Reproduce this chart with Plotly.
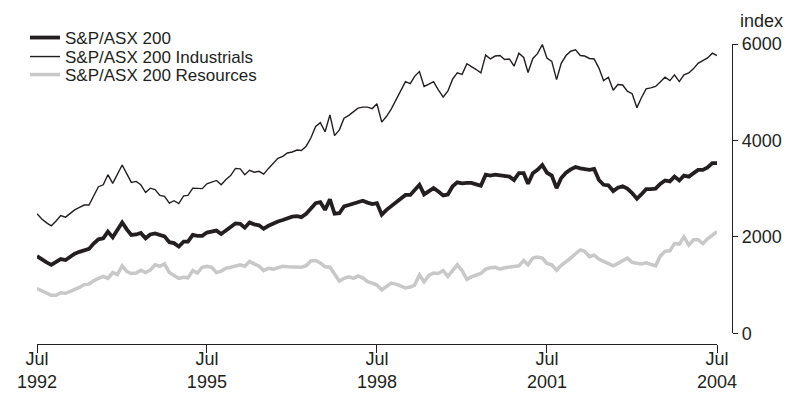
import pandas as pd
import plotly.graph_objects as go

series_names = ["S&P/ASX 200", "S&P/ASX 200 Industrials", "S&P/ASX 200 Resources"]

dates = pd.date_range("1992-07-01", periods=145, freq="MS")

asx200 = [
    1600,1530,1470,1420,1470,1540,1520,1590,1650,1690,1730,1750,1860,1950,1970,2110,1990,2150,2300,2150,2040,2050,2080,1970,2050,
    2070,2030,2010,1890,1870,1800,1900,1900,2040,2020,2020,2090,2110,2130,2060,2140,2200,2280,2270,2190,2300,2260,2240,2170,
    2230,2280,2320,2350,2390,2420,2430,2410,2480,2580,2700,2720,2560,2780,2480,2490,2630,2660,2690,2720,2750,2710,2680,2700,
    2460,2560,2640,2730,2800,2870,2870,2970,3080,2880,2940,3010,2940,2860,2880,3050,3130,3110,3120,3120,3090,3060,3290,3270,
    3290,3280,3270,3250,3180,3320,3320,3100,3320,3390,3490,3330,3270,3010,3220,3330,3400,3450,3420,3400,3390,3410,3180,3080,3070,
    2950,3020,3050,3000,2910,2790,2880,2990,2990,3000,3100,3170,3150,3250,3170,3270,3250,3330,3390,3390,3440,3530,3530,
]

industrials = [
    2480,2370,2290,2230,2330,2440,2410,2490,2560,2610,2660,2660,2850,3040,3080,3290,3110,3300,3490,3300,3130,3150,3080,2920,3010,
    2980,2860,2840,2700,2750,2690,2850,2860,3010,3010,3000,3100,3130,3170,3080,3190,3270,3420,3410,3290,3380,3340,3360,3300,
    3420,3530,3630,3670,3740,3760,3800,3790,3880,4050,4290,4370,4180,4530,4100,4220,4460,4520,4600,4670,4690,4690,4660,4760,
    4380,4500,4650,4850,5050,5220,5180,5330,5430,5120,5170,5220,5050,4900,5020,5270,5400,5370,5590,5540,5470,5400,5770,5690,
    5750,5760,5680,5690,5540,5810,5720,5410,5700,5800,5990,5710,5640,5260,5600,5760,5850,5880,5760,5750,5700,5690,5500,5240,5310,
    5040,5160,5150,5020,4970,4680,4880,5070,5090,5120,5210,5310,5240,5360,5220,5360,5400,5490,5600,5650,5710,5810,5760,
]

resources = [
    930,880,830,790,790,840,830,870,910,950,1010,1020,1090,1130,1180,1140,1260,1220,1400,1280,1240,1250,1310,1260,1310,
    1420,1390,1440,1260,1200,1140,1160,1150,1300,1250,1370,1390,1370,1260,1290,1350,1370,1390,1420,1390,1490,1440,1390,1300,
    1350,1330,1360,1390,1380,1380,1370,1370,1400,1500,1510,1460,1380,1370,1230,1080,1140,1170,1140,1190,1150,1070,1040,1000,
    900,970,1040,1020,990,940,960,1000,1210,1070,1200,1250,1240,1300,1180,1300,1420,1300,1120,1170,1210,1240,1330,1360,
    1370,1330,1360,1370,1380,1400,1510,1420,1560,1580,1560,1450,1420,1310,1410,1480,1560,1650,1730,1700,1590,1620,1540,1490,1450,
    1400,1450,1510,1560,1470,1460,1440,1460,1430,1400,1600,1700,1710,1860,1850,2000,1830,1940,1940,1860,1960,2030,2110,
]

assert len(asx200) == len(industrials) == len(resources) == len(dates)

x_tick_vals = ["1992-07-01", "1995-07-01", "1998-07-01", "2001-07-01", "2004-07-01"]
x_tick_text = ["Jul<br>1992", "Jul<br>1995", "Jul<br>1998", "Jul<br>2001", "Jul<br>2004"]
y_tick_vals = [0, 2000, 4000, 6000]
y_tick_text = ["0", "2000", "4000", "6000"]

FONT = "Liberation Sans, Arial, sans-serif"
INK = "#231f20"

fig = go.Figure()
fig.add_trace(go.Scatter(x=dates, y=resources, name=series_names[2], mode="lines",
                         line=dict(color="#c8c8c8", width=3.5), legend="legend3"))
fig.add_trace(go.Scatter(x=dates, y=industrials, name=series_names[1], mode="lines",
                         line=dict(color=INK, width=1.4), legend="legend2"))
fig.add_trace(go.Scatter(x=dates, y=asx200, name=series_names[0], mode="lines",
                         line=dict(color=INK, width=3.8), legend="legend"))

# The page body has an 8px margin, so the figure is 8px smaller than the window
OFF = 8
W, H = 791 - OFF, 399 - OFF
# plot area in window pixels
PL, PR, PT, PB = 37, 732, 44, 344
L, R, T, B = PL - OFF, W - (PR - OFF), PT - OFF, H - (PB - OFF)
pw, ph = PR - PL, PB - PT

def leg(ypix):
    return dict(x=(25 - OFF) / W, y=1 - (ypix - OFF) / H, xref="container", yref="container",
                xanchor="left", yanchor="middle", bgcolor="rgba(0,0,0,0)",
                font=dict(family=FONT, size=17, color=INK), borderwidth=0)

fig.update_layout(
    width=W, height=H,
    margin=dict(l=L, r=R, t=T, b=B, autoexpand=False),
    paper_bgcolor="white", plot_bgcolor="white",
    font=dict(family=FONT, size=18, color=INK),
    showlegend=True,
    legend=leg(38), legend2=leg(57), legend3=leg(75),
    xaxis=dict(
        type="date", range=["1992-07-01", "2004-07-01"],
        domain=[0, (717 - PL) / pw],
        anchor="free", position=0,
        tickmode="array", tickvals=x_tick_vals, ticktext=x_tick_text,
        ticks="outside", ticklen=8, tickwidth=1.3, tickcolor=INK,
        ticklabelstandoff=-10,
        showline=True, linecolor=INK, linewidth=1.3,
        showgrid=False, zeroline=False,
        tickfont=dict(family=FONT, size=18, color=INK),
    ),
    yaxis=dict(
        range=[0, 6000], domain=[(PB - 333.3) / ph, 1],
        side="right", anchor="free", position=1,
        tickmode="array", tickvals=y_tick_vals, ticktext=y_tick_text,
        ticks="outside", ticklen=5, tickwidth=1.3, tickcolor=INK,
        showline=True, linecolor=INK, linewidth=1.3,
        showgrid=False, zeroline=False,
        tickfont=dict(family=FONT, size=18, color=INK),
    ),
    annotations=[dict(text="index", xref="paper", yref="paper",
                      x=(738 - PL) / pw, y=(PB - 21) / ph,
                      xanchor="left", yanchor="middle", showarrow=False,
                      font=dict(family=FONT, size=18, color=INK))],
)

fig.write_html("out.html")
